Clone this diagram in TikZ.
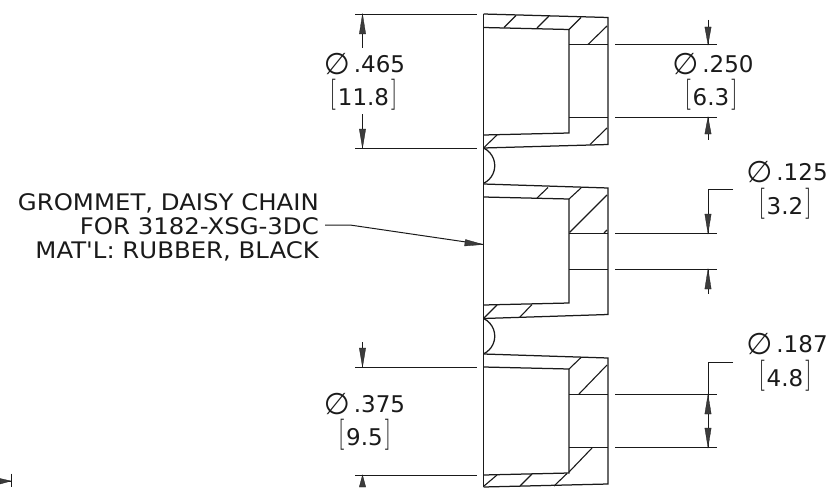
\documentclass[tikz,border=0pt]{standalone}
\usepackage{graphicx}
\usepackage{fontspec}
\setmainfont{DejaVu Sans}
\newfontfamily\wide[FakeStretch=1.07]{DejaVu Sans}
\definecolor{ink}{HTML}{1A1A1A}
\newcommand{\dia}{\smash{\raisebox{-2.5pt}{\scalebox{1.3}{\textit{\char"2205}}}}\hspace{4pt}}
\newcommand{\thinbk}[1]{\smash{\raisebox{3pt}{\scalebox{1}[1.25]{$#1$}}}}
\newcommand{\brk}[1]{\thinbk{[}\hspace{2pt}#1\hspace{2pt}\thinbk{]}}
\tikzset{
  part/.style={draw=ink,line width=1.25pt,line join=miter},
  hatchline/.style={draw=ink,line width=1.1pt},
  dimline/.style={draw=ink,line width=1pt},
  head/.style={fill=ink!85,draw=ink,line width=0.3pt},
  lbl/.style={font=\fontsize{23}{24}\selectfont,text=ink,inner sep=0pt,anchor=base},
  note/.style={font=\wide\fontsize{22.8}{24}\selectfont,text=ink,inner sep=0pt,anchor=base east}
}
\newcommand{\vhead}[3]{\fill[head] (#1,#2) -- (#1-3.2,#3) -- (#1+3.2,#3) -- cycle;}
\begin{document}
\begin{tikzpicture}[x=1pt,y=-1pt]
\useasboundingbox (0,0) rectangle (829,487);
% body
\draw[part] (483.5,14) -- (483.5,487);
% section 1
\draw[part] (483.5,14) -- (608,17.5) -- (608,144.5) -- (483.5,148);
\draw[part] (483.5,27.5) -- (569,29.5) -- (569,133) -- (483.5,135);
\draw[part] (569,44.5) -- (608,44.5) (569,117.5) -- (608,117.5);
\draw[hatchline] (504,27.5)--(516,15.5) (537,28)--(549,16) (569,29.5)--(581,17.5) (588,44.5)--(607,26) (484,147.5)--(497,135) (590,144.5)--(607,128);
% section 2
\draw[part] (483.5,148) arc[start angle=-65,end angle=65,radius=19.5];
\draw[part] (483.5,184) -- (608,188) -- (608,314.5) -- (483.5,318.5);
\draw[part] (483.5,197) -- (569,199) -- (569,303) -- (483.5,305);
\draw[part] (569,233.5) -- (608,233.5) (569,269.5) -- (608,269.5);
\draw[hatchline] (537,198)--(548,187.5) (569,199)--(581,188) (569.5,232.5)--(607,195) (604,233)--(607,230) (484,318)--(497,305) (520,317)--(532,304.5);
% section 3
\draw[part] (483.5,318.5) arc[start angle=-65,end angle=65,radius=19.5];
\draw[part] (483.5,354) -- (608,358) -- (608,484) -- (483.5,487);
\draw[part] (483.5,367) -- (569,369) -- (569,473) -- (483.5,475);
\draw[part] (569,394.5) -- (608,394.5) (569,447.5) -- (608,447.5);
\draw[hatchline] (569,369)--(581,357.5) (579,394)--(607,365) (569,472)--(592,448) (484,486)--(497,475) (520,486)--(532,474) (554,486)--(567,473.5);
% left dims
\draw[dimline] (355,14.5)--(477,14.5) (355,148)--(477,148) (355,367.5)--(477,367.5) (355,475)--(477,475);
\draw[dimline] (362.5,14)--(362.5,48) (362.5,114)--(362.5,148) (362.5,342)--(362.5,367) (362.5,475)--(362.5,487);
\vhead{362.5}{14}{34} \vhead{362.5}{148}{129} \vhead{362.5}{367}{348} \vhead{362.5}{475}{487}
% right dims
\draw[dimline] (615,44.5)--(717,44.5) (615,117.5)--(717,117.5) (615,233.5)--(717,233.5) (615,269.5)--(717,269.5) (615,394.5)--(717,394.5) (615,447.5)--(717,447.5);
\draw[dimline] (708,20)--(708,44.5) (708,117)--(708,140);
\vhead{708}{44.5}{27} \vhead{708}{117}{134}
\draw[dimline] (733,189)--(708,189)--(708,233.5) (708,269)--(708,294);
\vhead{708}{233.5}{214} \vhead{708}{269}{289}
\draw[dimline] (733,362)--(708,362)--(708,447.5);
\vhead{708}{394.5}{414} \vhead{708}{447.5}{428}
% grommet leader
\coordinate (ltip) at (483,244.5);
\coordinate (lknee) at (350,225);
\coordinate (lstart) at (325,225);
\draw[dimline] (lstart)--(lknee)--(ltip);
\fill[head] (ltip) -- (464.5,246) -- (465.5,239.5) -- cycle;
% bottom-left fragment
\draw[dimline] (11,473.5)--(11,487) (0,481)--(11,481);
\fill[head] (11,481) -- (0,478.5) -- (0,484) -- cycle;
% labels
\node[lbl] (t1) at (364.5,72) {\dia.465};
\node[lbl] (t2) at (363.5,105) {\brk{11.8}};
\node[lbl] (t3) at (713,72) {\dia.250};
\node[lbl] (t4) at (711,105) {\brk{6.3}};
\node[lbl] (t5) at (787,180) {\dia.125};
\node[lbl] (t6) at (785,214) {\brk{3.2}};
\node[lbl] (t7) at (787,352) {\dia.187};
\node[lbl] (t8) at (785,386) {\brk{4.8}};
\node[lbl] (t9) at (364.5,412) {\dia.375};
\node[lbl] (t10) at (364.5,445) {\brk{9.5}};
\node[note] (n1) at (319,210.5) {GROMMET, DAISY CHAIN};
\node[note] (n2) at (319,234.5) {FOR 3182-XSG-3DC};
\node[note] (n3) at (319,258.5) {MAT\char"27 L: RUBBER, BLACK};
\end{tikzpicture}
\end{document}
